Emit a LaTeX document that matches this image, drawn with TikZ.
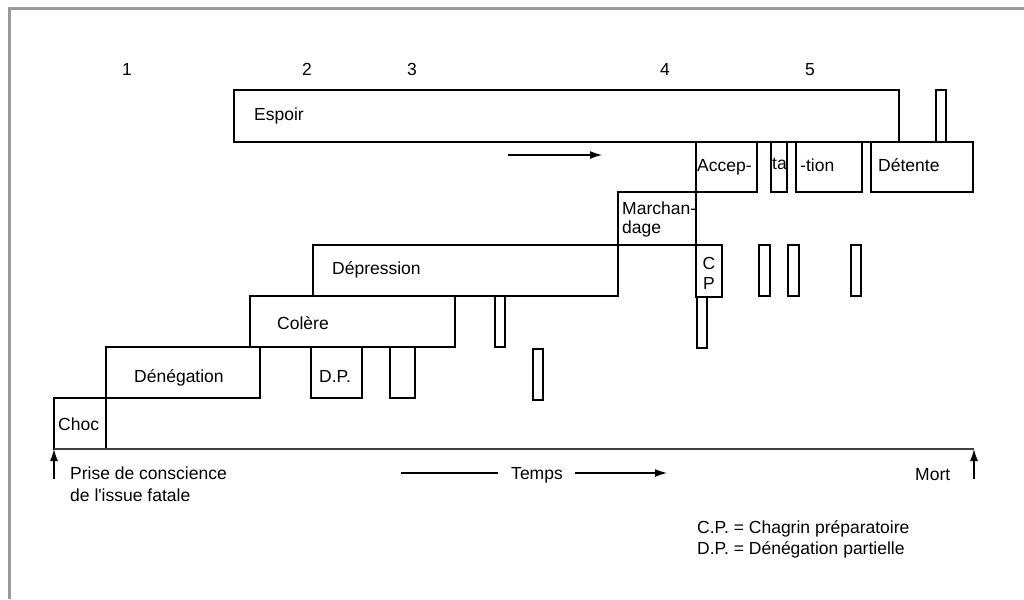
\documentclass[tikz,border=0pt]{standalone}
\usepackage{fontspec}
\setmainfont{Liberation Sans}
\usetikzlibrary{arrows.meta}
\tikzset{
  box/.style 2 args={draw=black, line width=1.2pt, minimum width=#1pt, minimum height=#2pt, anchor=north west, inner sep=0pt, outer sep=0pt},
  lbl/.style={anchor=base west, inner sep=0pt, font=\fontsize{17.5}{21}\selectfont},
  clbl/.style={anchor=base, inner sep=0pt, font=\fontsize{17.5}{21}\selectfont},
  axis/.style={draw=black!75, line width=1.8pt},
  plain/.style={line width=1.2pt},
  arr/.style={line width=1.2pt, -{Latex[length=12pt,width=8pt]}},
  frame/.style={draw=black!40, line width=3pt}
}
\begin{document}
\begin{tikzpicture}[x=1pt,y=-1pt]
\useasboundingbox (0,0) rectangle (1024,599);
\draw[frame] (9.5,599) -- (9.5,8.5) -- (1024,8.5);

% phase numbers
\node[clbl] (n1) at (127,76) {1};
\node[clbl] (n2) at (307,76) {2};
\node[clbl] (n3) at (412,76) {3};
\node[clbl] (n4) at (665,76) {4};
\node[clbl] (n5) at (810,76) {5};

% boxes
\node[box={665}{52}] (espoir) at (234,90) {};
\node[box={10}{52}] (topbar) at (936,90) {};
\node[box={61}{50}] (accep) at (696,142) {};
\node[box={16}{50}] (ta) at (771,142) {};
\node[box={66}{50}] (tion) at (796,142) {};
\node[box={102}{50}] (detente) at (871,142) {};
\node[box={78}{53}] (march) at (618,192) {};
\node[box={305}{51}] (depr) at (313,245) {};
\node[box={26}{52}] (cp) at (696,245) {};
\node[box={10}{51}] (cpbar) at (697,297) {};
\node[box={11}{51}] (r1) at (759,245) {};
\node[box={11}{51}] (r2) at (788,245) {};
\node[box={10}{51}] (r3) at (851,245) {};
\node[box={205}{51}] (colere) at (250,296) {};
\node[box={10}{51}] (r4) at (495,296) {};
\node[box={154}{51}] (deneg) at (106,347) {};
\node[box={51}{51}] (dp) at (311,347) {};
\node[box={25}{51}] (r5) at (390,347) {};
\node[box={10}{51}] (r6) at (533,349) {};
\node[box={52}{51}] (choc) at (54,398) {};

% box labels
\node[lbl] (tEspoir) at (254,121) {Espoir};
\node[lbl] (tAccep) at (697,171) {Accep-};
\node[lbl] (tTa) at (772,169) {ta};
\node[lbl] (tTion) at (800,171) {-tion};
\node[lbl] (tDet) at (878,171) {Détente};
\node[lbl] (tMarch1) at (622,214) {Marchan-};
\node[lbl] (tMarch2) at (622,233) {dage};
\node[clbl] (tC) at (709,269) {C};
\node[clbl] (tP) at (709,289) {P};
\node[lbl] (tDepr) at (332,274) {Dépression};
\node[lbl] (tCol) at (277,329) {Colère};
\node[lbl] (tDen) at (134,382) {Dénégation};
\node[lbl] (tDP) at (319,382) {D.P.};
\node[lbl] (tChoc) at (58,430) {Choc};

% arrow in hope band
\coordinate (ha) at (508,155);
\coordinate (hb) at (602,155);
\draw[arr] (ha) -- (hb);

% time axis
\coordinate (mort) at (974,449);
\draw[axis] (choc.south west) -- (mort);
\coordinate (startfoot) at (54,479);
\coordinate (mortfoot) at (974,479);
\draw[arr] (startfoot) -- (choc.south west);
\draw[arr] (mortfoot) -- (mort);

\node[lbl] (prise1) at (70,479) {Prise de conscience};
\node[lbl] (prise2) at (70,501) {de l\textquotesingle issue fatale};
\node[lbl] (tMort) at (915,480) {Mort};

\node[clbl] (temps) at (537,479) {Temps};
\coordinate (tl1) at (401,473);
\coordinate (tl2) at (498,473);
\coordinate (tr1) at (575,473);
\coordinate (tr2) at (667,473);
\draw[plain] (tl1) -- (tl2);
\draw[arr] (tr1) -- (tr2);

% legend
\node[lbl] (leg1) at (697,533) {C.P. = Chagrin préparatoire};
\node[lbl] (leg2) at (697,554) {D.P. = Dénégation partielle};
\end{tikzpicture}
\end{document}
